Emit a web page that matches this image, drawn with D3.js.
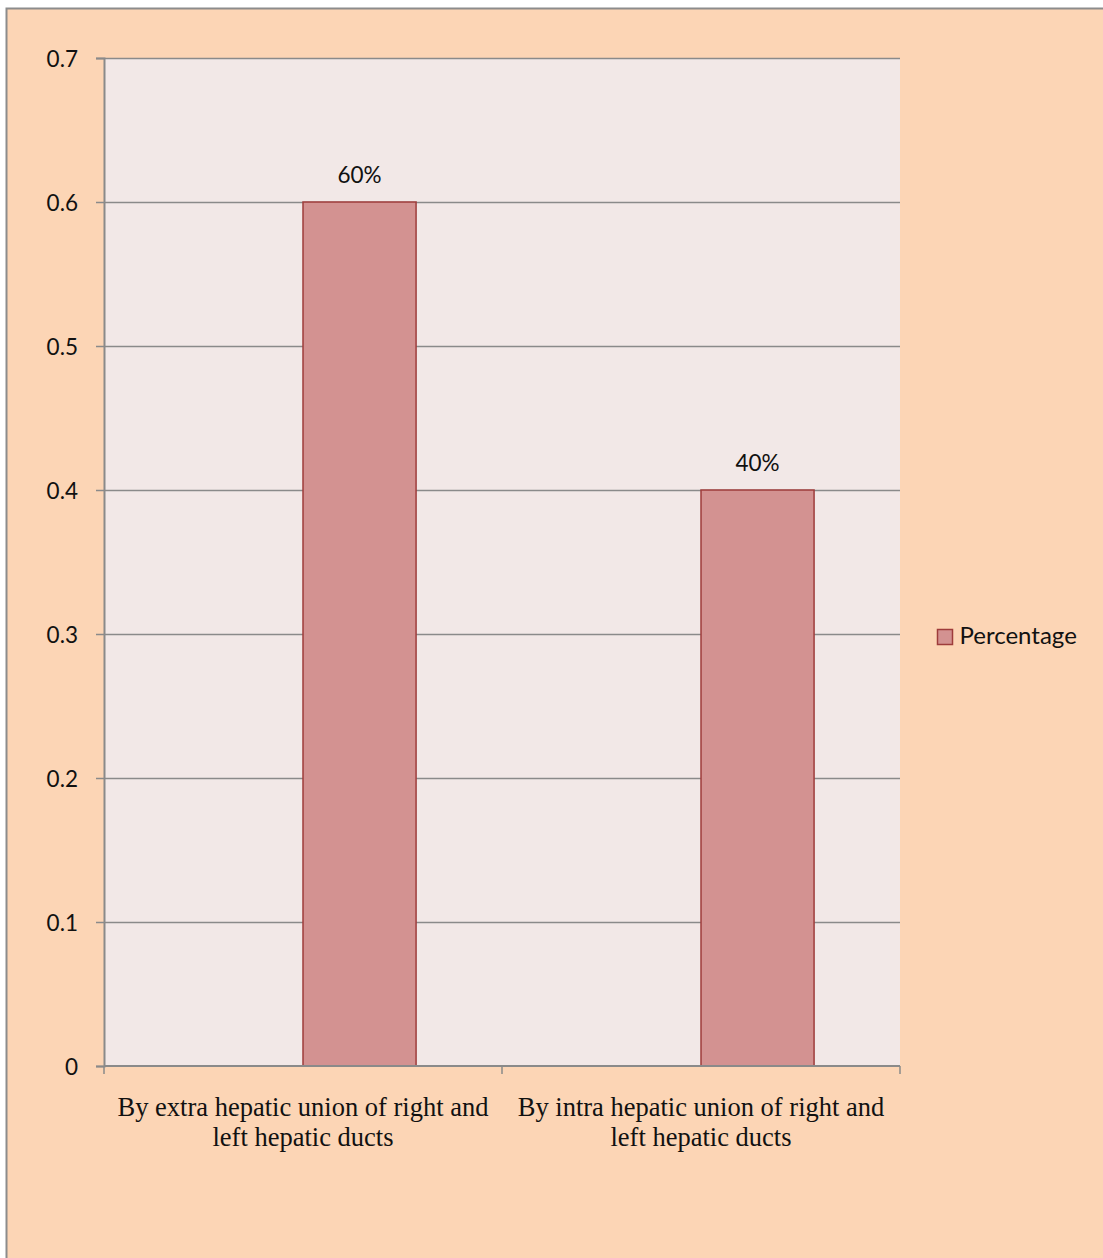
<!DOCTYPE html>
<html>
<head>
<meta charset="utf-8">
<script src="https://cdn.jsdelivr.net/npm/d3@7"></script>
<style>
  html, body { margin: 0; padding: 0; background: #ffffff; }
  svg { display: block; }
</style>
</head>
<body>
<script>
// Bile duct union pattern, share of specimens
const categories = [
  ["By extra hepatic union of right and", "left hepatic ducts"],
  ["By intra hepatic union of right and", "left hepatic ducts"]
];
const seriesNames = ["", "Percentage"];      // first slot is an empty series
const percentageValues = [0.6, 0.4];
const dataLabels = ["60%", "40%"];
const yTicks = [0, 0.1, 0.2, 0.3, 0.4, 0.5, 0.6, 0.7];
const yTickLabels = ["0", "0.1", "0.2", "0.3", "0.4", "0.5", "0.6", "0.7"];

const W = 1103, H = 1258;
const svg = d3.select("body").append("svg").attr("width", W).attr("height", H);

const sans = "Lato, 'Open Sans', sans-serif";

// chart area
svg.append("rect").attr("x", 6.5).attr("y", 8.5).attr("width", W).attr("height", H)
  .attr("fill", "#FCD5B5").attr("stroke", "#8c8c8c").attr("stroke-width", 2);

const plot = { left: 104, right: 900, top: 58, bottom: 1066 };

const y = d3.scaleLinear().domain([0, 0.7]).range([plot.bottom, plot.top]);
const x0 = d3.scaleBand().domain(d3.range(categories.length)).range([plot.left, plot.right]);
const gapWidth = 1.52;
const slot = x0.bandwidth() / (seriesNames.length + gapWidth);
const x1 = d3.scaleBand().domain(seriesNames)
  .range([slot * gapWidth / 2, slot * gapWidth / 2 + slot * seriesNames.length]);

// plot area
svg.append("rect").attr("x", plot.left).attr("y", plot.top)
  .attr("width", plot.right - plot.left).attr("height", plot.bottom - plot.top)
  .attr("fill", "#F2E8E7");

// gridlines
svg.append("g").selectAll("line").data(yTicks.filter(d => d > 0)).join("line")
  .attr("x1", plot.left).attr("x2", plot.right)
  .attr("y1", d => Math.round(y(d)) + 0.5).attr("y2", d => Math.round(y(d)) + 0.5)
  .attr("stroke", "#8a8a8a").attr("stroke-width", 1.3);

// bars
svg.append("g").selectAll("rect").data(percentageValues).join("rect")
  .attr("x", (d, i) => x0(i) + x1("Percentage"))
  .attr("y", d => y(d))
  .attr("width", x1.bandwidth())
  .attr("height", d => y(0) - y(d))
  .attr("fill", "#D39291").attr("stroke", "#9E3C3B").attr("stroke-width", 1.5);

// data labels
svg.append("g").selectAll("text").data(percentageValues).join("text")
  .attr("x", (d, i) => x0(i) + x1("Percentage") + x1.bandwidth() / 2)
  .attr("y", d => y(d) - 19)
  .attr("text-anchor", "middle")
  .attr("font-family", sans).attr("font-size", 22.5)
  .attr("fill", "#111")
  .text((d, i) => dataLabels[i]);

// value axis
const yAxis = svg.append("g").attr("transform", `translate(${plot.left},0)`)
  .call(d3.axisLeft(y).tickValues(yTicks).tickSize(8).tickFormat((d, i) => yTickLabels[i]));
yAxis.select(".domain").attr("stroke", "#8a8a8a").attr("stroke-width", 2);
yAxis.selectAll(".tick line").attr("stroke", "#8a8a8a").attr("stroke-width", 1.5);
yAxis.selectAll(".tick text").attr("x", -26).attr("dy", "0.36em")
  .attr("font-family", sans).attr("font-size", 22.5).attr("fill", "#111");

// category axis
const catEdges = d3.range(categories.length + 1).map(i => plot.left + i * x0.step());
svg.append("line").attr("x1", plot.left).attr("x2", plot.right)
  .attr("y1", plot.bottom).attr("y2", plot.bottom)
  .attr("stroke", "#8a8a8a").attr("stroke-width", 2);
svg.append("g").selectAll("line").data(catEdges).join("line")
  .attr("x1", d => d).attr("x2", d => d)
  .attr("y1", plot.bottom).attr("y2", plot.bottom + 8)
  .attr("stroke", "#8a8a8a").attr("stroke-width", 1.5);

const catText = svg.append("g").selectAll("text").data(categories).join("text")
  .attr("text-anchor", "middle")
  .attr("font-family", "'Liberation Serif', 'Times New Roman', serif").attr("font-size", 26.5)
  .attr("fill", "#111");
catText.selectAll("tspan").data((d, i) => d.map(line => ({ line, i }))).join("tspan")
  .attr("x", d => x0(d.i) + x0.bandwidth() / 2)
  .attr("y", (d, j) => 1116 + j * 30)
  .text(d => d.line);

// legend
const lg = svg.append("g").attr("transform", "translate(937.5,629.5)");
lg.append("rect").attr("width", 15).attr("height", 15)
  .attr("fill", "#D39291").attr("stroke", "#9E3C3B").attr("stroke-width", 1.5);
lg.append("text").attr("x", 22).attr("y", 14)
  .attr("font-family", sans).attr("font-size", 24).attr("fill", "#111")
  .text(seriesNames[1]);
</script>
</body>
</html>
